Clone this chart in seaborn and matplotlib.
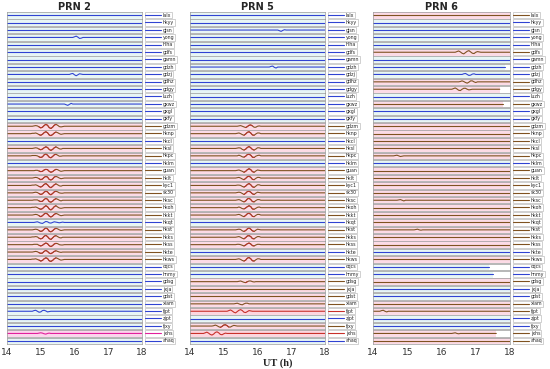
import matplotlib
matplotlib.use('Agg')
import matplotlib.pyplot as plt
import pandas as pd
import seaborn as sns

# station names, top to bottom (same order in every panel)
stations = ['lalx', 'hkyy', 'gjsn', 'yong', 'hlha', 'gdfs', 'gamn', 'gdzh', 'gdzj',
            'gdhz', 'gdgy', 'luzh', 'gxwz', 'gxgl', 'gxfy', 'gdzm', 'hknp', 'hkcl',
            'hksl', 'hkpc', 'hklm', 'guan', 'hklt', 'kyc1', 'sk30', 'hksc', 'hkoh',
            'hkkt', 'hkqt', 'hkst', 'hkks', 'hkss', 'hkte', 'hkws', 'cqcs', 'hnmy',
            'gdsg', 'jxja', 'gdst', 'xiam', 'fjpt', 'zjpt', 'fjxy', 'jxhs', 'ahaq']

# line colour code per station: b = blue, n = brown, r = red, m = magenta
p2_cols = 'bbbbbbbbbbbbbbb' + 'nnbnnbnnnnnnnbnnnnn' + 'bbbbbbbbbmb'
p5_cols = 'bbbbbbbbbbbbbbb' + 'nnbnnbnnnnnnnbnnnbn' + 'bbnnnnrbnrb'
p6_cols = 'nbbbbnbbbnnbnbb' + 'nnnnnbnnnnnnnnnnnbn' + 'bbnbbnnbbnn'

ut_ticks = [14, 15, 16, 17, 18]
step = 0.05  # hours between wave samples

# disturbed stations: (start UT, dTEC samples), flat elsewhere
p2_waves = {
    'yong': (15.95, [0, .2, .4, .1, -.3, -.2, 0]),
    'gdzj': (15.85, [0, .2, .3, -.1, -.4, -.1, .2, .1, 0]),
    'gxwz': (15.70, [0, -.2, -.4, -.1, .2, 0]),
    'gdzm': (14.70, [0, 0, .1, .2, .1, -.2, -.5, -.3, .2, .6, .3, -.4, -.7, -.3, .3, .6, .3, -.1, -.2, -.1, 0]),
    'hknp': (14.70, [0, .1, .1, .2, 0, -.3, -.5, -.2, .3, .6, .3, -.4, -.6, -.3, .2, .5, .3, 0, -.2, -.1, 0]),
    'hksl': (14.70, [0, 0, .1, .2, .1, -.2, -.4, -.2, .2, .5, .3, -.3, -.6, -.3, .2, .5, .2, -.1, -.2, 0, 0]),
    'hkpc': (14.70, [0, .1, .1, .1, 0, -.3, -.5, -.3, .3, .6, .2, -.4, -.6, -.2, .3, .5, .2, -.1, -.1, 0, 0]),
    'guan': (14.70, [0, 0, 0, .1, .1, -.1, -.3, -.2, .2, .4, .3, -.2, -.5, -.3, .1, .4, .3, 0, -.2, -.1, 0]),
    'hklt': (14.70, [0, 0, .1, .2, .1, -.2, -.5, -.3, .2, .5, .3, -.4, -.6, -.3, .3, .5, .3, 0, -.2, -.1, 0]),
    'kyc1': (14.70, [0, .1, .1, .2, 0, -.3, -.5, -.2, .3, .6, .2, -.4, -.7, -.3, .2, .5, .2, -.1, -.2, 0, 0]),
    'sk30': (14.70, [0, 0, .1, .2, .1, -.2, -.5, -.3, .2, .5, .3, -.3, -.6, -.2, .3, .5, .3, 0, -.1, -.1, 0]),
    'hksc': (14.70, [0, 0, .1, .1, .1, -.2, -.4, -.3, .2, .6, .3, -.4, -.6, -.3, .2, .5, .3, 0, -.2, 0, 0]),
    'hkoh': (14.70, [0, .1, .1, .2, 0, -.3, -.5, -.3, .2, .6, .3, -.4, -.7, -.3, .3, .6, .2, -.1, -.2, -.1, 0]),
    'hkkt': (14.70, [0, 0, .1, .2, .1, -.2, -.5, -.2, .3, .6, .3, -.3, -.6, -.3, .2, .5, .3, 0, -.2, -.1, 0]),
    'hkqt': (14.80, [0, .1, .2, 0, -.2, -.3, 0, .3, .2, -.1, -.2, 0, .2, .1, 0, -.1, 0, .1, 0]),
    'hkst': (14.70, [0, 0, .1, .2, .1, -.2, -.5, -.3, .2, .6, .3, -.4, -.6, -.3, .2, .5, .3, 0, -.2, -.1, 0]),
    'hkks': (14.70, [0, .1, .1, .2, .1, -.3, -.5, -.3, .3, .6, .2, -.4, -.7, -.2, .3, .5, .2, -.1, -.2, 0, 0]),
    'hkss': (14.70, [0, 0, .1, .1, .1, -.2, -.4, -.2, .2, .5, .3, -.3, -.6, -.3, .2, .4, .3, 0, -.1, -.1, 0]),
    'hkte': (14.70, [0, 0, .1, .2, .1, -.2, -.4, -.3, .2, .5, .2, -.3, -.5, -.2, .2, .4, .2, 0, -.1, 0, 0]),
    'hkws': (14.70, [0, .1, .1, .2, 0, -.2, -.5, -.3, .2, .5, .3, -.4, -.6, -.3, .2, .5, .3, 0, -.2, -.1, 0]),
    'fjpt': (14.75, [0, .2, .3, 0, -.3, -.2, .2, .3, .1, -.2, -.1, 0]),
    'jxhs': (14.90, [0, .1, .2, .1, -.1, -.2, 0, .1, 0]),
}

p5_waves = {
    'gjsn': (16.60, [0, -.2, -.4, -.1, .1, 0]),
    'gdzh': (16.35, [0, .2, .3, -.1, -.3, 0]),
    'gdzm': (15.40, [0, .1, .2, 0, -.2, -.4, -.1, .3, .4, .1, -.3, -.3, 0, .1, 0]),
    'hknp': (15.35, [0, .1, .2, 0, -.3, -.5, -.1, .4, .6, .2, -.4, -.5, -.1, .2, .2, 0, 0]),
    'hksl': (15.35, [0, .1, .2, .1, -.3, -.5, -.2, .3, .6, .2, -.3, -.5, -.2, .2, .2, 0, 0]),
    'hkpc': (15.35, [0, 0, .2, 0, -.3, -.4, -.1, .4, .5, .2, -.4, -.5, -.1, .1, .2, 0, 0]),
    'guan': (15.35, [0, .1, .2, 0, -.2, -.5, -.2, .3, .6, .3, -.3, -.5, -.1, .2, .1, 0, 0]),
    'hklt': (15.35, [0, .1, .2, 0, -.3, -.5, -.1, .4, .6, .2, -.4, -.5, -.1, .2, .2, 0, 0]),
    'kyc1': (15.35, [0, .1, .1, 0, -.3, -.5, -.2, .3, .6, .2, -.4, -.6, -.2, .2, .2, 0, 0]),
    'sk30': (15.35, [0, .1, .2, .1, -.2, -.5, -.1, .4, .5, .2, -.3, -.5, -.1, .2, .1, 0, 0]),
    'hksc': (15.35, [0, .1, .2, 0, -.3, -.5, -.2, .4, .6, .2, -.4, -.5, -.1, .2, .2, 0, 0]),
    'hkoh': (15.35, [0, 0, .2, 0, -.3, -.4, -.1, .3, .6, .3, -.4, -.5, -.2, .1, .2, 0, 0]),
    'hkkt': (15.35, [0, .1, .2, 0, -.3, -.5, -.1, .4, .6, .2, -.4, -.5, -.1, .2, .2, 0, 0]),
    'hkst': (15.35, [0, .1, .2, .1, -.3, -.5, -.2, .3, .6, .2, -.3, -.5, -.1, .2, .1, 0, 0]),
    'hkks': (15.35, [0, .1, .2, 0, -.3, -.5, -.1, .4, .5, .2, -.4, -.5, -.1, .2, .2, 0, 0]),
    'hkss': (15.35, [0, .1, .1, 0, -.2, -.4, -.1, .3, .5, .2, -.3, -.4, -.1, .1, .1, 0, 0]),
    'hkws': (15.35, [0, .1, .2, 0, -.3, -.5, -.2, .4, .6, .2, -.4, -.5, -.1, .2, .2, 0, 0]),
    'gdsg': (15.40, [0, .1, .2, 0, -.2, -.3, 0, .2, .2, 0, -.1, 0]),
    'xiam': (15.30, [0, .1, .2, 0, -.2, -.3, 0, .2, .2, 0]),
    'fjpt': (15.10, [0, .2, .4, .1, -.3, -.5, -.1, .3, .5, .2, -.3, -.4, -.1, .2, .1, 0]),
    'fjxy': (14.65, [0, .1, .3, .1, -.2, -.4, -.1, .3, .4, .1, -.3, -.3, 0, .2, .1, 0]),
    'jxhs': (14.40, [0, .2, .4, .1, -.3, -.5, -.2, .3, .5, .2, -.3, -.4, -.1, .1, 0]),
}

p6_waves = {
    'gdfs': (16.40, [0, .2, .4, .1, -.3, -.5, -.1, .3, .5, .1, -.3, -.4, 0, .2, .1, 0]),
    'gdzj': (16.60, [0, .2, .3, 0, -.3, -.2, .1, .2, 0]),
    'gdhz': (16.50, [0, .1, .3, .1, -.2, -.4, -.1, .3, .3, 0, -.2, 0]),
    'gdgy': (16.30, [0, .2, .4, .1, -.3, -.4, 0, .3, .3, 0, -.2, -.1, 0]),
    'hkpc': (14.60, [0, .1, .2, 0, -.2, -.1, 0]),
    'hksc': (14.70, [0, .1, .2, 0, -.2, 0]),
    'hkst': (15.20, [0, .1, .2, 0, -.1, 0]),
    'fjpt': (14.20, [0, .2, .3, 0, -.2, 0]),
    'jxhs': (16.30, [0, .1, .2, 0, -.1, 0]),
}

# stations whose record stops before 18 UT in the PRN 6 panel
p6_ends = {'gdzh': 17.85, 'gdgy': 17.7, 'gxwz': 17.8, 'cqcs': 17.4, 'hnmy': 17.5, 'jxhs': 17.6}

colour_map = {'b': '#3043d2', 'n': '#7f5220', 'r': '#c8302a', 'm': '#e2209c'}
face_map = {'b': '#e8f6f5', 'n': '#fcdbe6', 'r': '#fcd6df', 'm': '#fcd6ec'}

sns.set_style('white')
plt.rcParams['font.family'] = ['DejaVu Sans']

W, H = 550, 369
fig = plt.figure(figsize=(W / 100, H / 100), dpi=100)

panels = [(7, 142, 'PRN 2', p2_cols, p2_waves, {}),
          (190, 325, 'PRN 5', p5_cols, p5_waves, {}),
          (373, 510, 'PRN 6', p6_cols, p6_waves, p6_ends)]
top, bottom = 12, 345
n = len(stations)
row_h = (bottom - top) / n

for left, right, title, cols, waves, ends in panels:
    for i, name in enumerate(stations):
        y0 = top + i * row_h
        ax = fig.add_axes([left / W, 1 - (y0 + row_h - 0.9) / H,
                           (right - left) / W, (row_h - 0.9) / H])
        c = cols[i]
        end = ends.get(name, 18)
        ax.set_facecolor('white')
        ax.axvspan(14, end, color=face_map[c], lw=0)

        t = [14.0]
        v = [0.0]
        if name in waves:
            start, vals = waves[name]
            t += [start + k * step for k in range(len(vals))]
            v += list(vals)
        t.append(end)
        v.append(0.0)
        df = pd.DataFrame({'ut': t, 'dtec': v})
        sns.lineplot(data=df, x='ut', y='dtec', color=colour_map[c], lw=0.8,
                     ax=ax, label=name, sort=False)
        if name in waves and c == 'n' and title != 'PRN 6':
            seg = df.iloc[1:-1].iloc[5:-5]
            sns.lineplot(data=seg, x='ut', y='dtec', color='#b8322a', lw=0.7,
                         ax=ax, sort=False, legend=False)

        ax.set_xlim(14, 18)
        ax.set_ylim(-1, 1)
        ax.set_xticks(ut_ticks)
        ax.set_yticks([])
        ax.set_xlabel('')
        ax.set_ylabel('')
        ax.grid(axis='x', color='#cfcfcf', lw=0.4)
        for s in ax.spines.values():
            s.set_color('#9a9a9a')
            s.set_linewidth(0.5)
        if i == n - 1:
            ax.tick_params(axis='x', labelsize=6.5, length=0, pad=3, colors='#333333')
        else:
            ax.tick_params(axis='x', labelbottom=False, length=0)

        leg = ax.legend(loc='center left', bbox_to_anchor=(1.02, 0.5), fontsize=3.4,
                        handlelength=3.2, handletextpad=0.5, borderpad=0.15,
                        borderaxespad=0, frameon=True, fancybox=False)
        leg.get_frame().set_edgecolor('#9a9a9a')
        leg.get_frame().set_linewidth(0.4)

    fig.text((left + right) / 2 / W, 1 - 7 / H, title, ha='center', va='center',
             fontsize=7, fontweight='bold')

fig.text(278 / W, 1 - 363.5 / H, 'UT (h)', ha='center', va='center', fontsize=7.5,
         fontweight='bold', family='Liberation Serif')

fig.savefig('out.png', dpi=100)
